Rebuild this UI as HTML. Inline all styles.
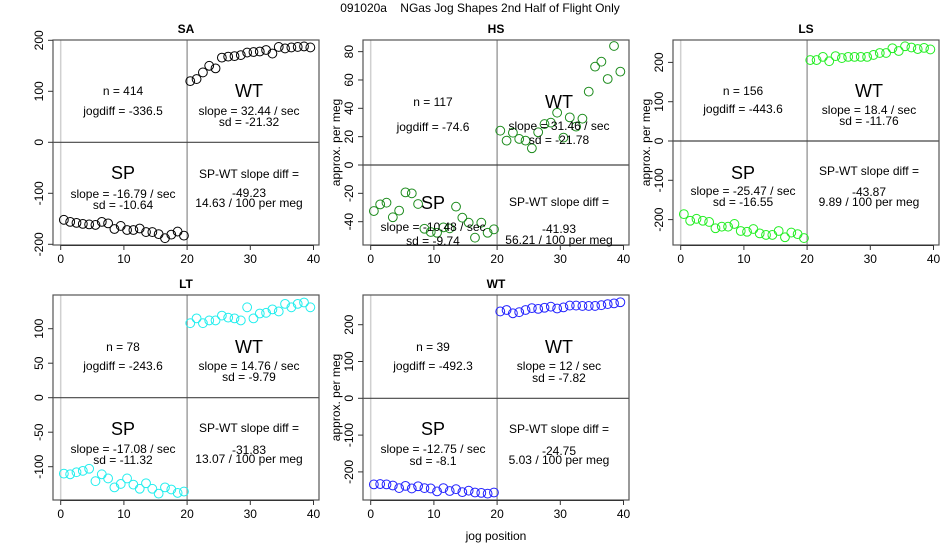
<!DOCTYPE html>
<html><head><meta charset="utf-8"><style>
body{margin:0;background:#fff}
svg{font-family:"Liberation Sans",sans-serif;display:block}
</style></head><body>
<svg id="chart" width="950" height="550"></svg>
<script>
const xTicks=[0,10,20,30,40];
const spX=[0.5,1.5,2.5,3.5,4.5,5.5,6.5,7.5,8.5,9.5,10.5,11.5,12.5,13.5,14.5,15.5,16.5,17.5,18.5,19.5];
const wtX=[20.5,21.5,22.5,23.5,24.5,25.5,26.5,27.5,28.5,29.5,30.5,31.5,32.5,33.5,34.5,35.5,36.5,37.5,38.5,39.5];
const saSP=[-152,-156,-158,-160,-161,-162,-156,-159,-170,-164,-172,-172,-169,-176,-176,-180,-188,-181,-175,-183];
const saWT=[120,124,137,150,145,166,168,169,171,176,177,178,181,174,187,184,186,187,188,186];
const hsSP=[-32.5,-27.8,-26.6,-36.9,-32.2,-19.3,-20,-27.5,-45,-47.3,-47.8,-44,-44.7,-29.4,-37.2,-40.7,-51.3,-40.7,-47.8,-45.4];
const hsWT=[24.2,17.2,22.8,18.4,17.2,11.8,23.1,28.9,29.9,36.9,19.3,33.6,27.1,32.7,51.8,69.4,72.9,60.7,84,65.9];
const lsSP=[-186,-203,-198,-203,-206,-222,-218,-218,-211,-229,-231,-224,-235,-239,-239,-229,-245,-233,-237,-247];
const lsWT=[206,206,214,203,216,211,214,214,214,214,219,224,224,236,229,241,238,234,237,233];
const ltSP=[-110,-111,-108,-106,-103,-121,-111,-117,-130,-125,-117,-126,-132,-124,-132,-139,-130,-133,-138,-136];
const ltWT=[108,115,108,112,112,119,116,115,112,131,115,122,123,128,125,136,131,136,138,131];
const wtSP=[-234,-233,-234,-237,-244,-238,-245,-239,-244,-245,-253,-244,-252,-247,-255,-251,-256,-257,-259,-256];
const wtWT=[236,240,231,234,240,245,243,246,249,244,247,252,252,251,251,251,253,256,258,261];
const saTicks=[-200,-100,0,100,200];
const hsTicks=[-40,-20,0,20,40,60,80];
const lsTicks=[-200,-100,0,100,200];
const ltTicks=[-100,-50,0,50,100];
const wtTicks=[-200,-100,0,100,200];
const saText=["n = 414","jogdiff = -336.5","slope = 32.44 / sec","sd = -21.32","slope = -16.79 / sec","sd = -10.64","-49.23","14.63 / 100 per meg"];
const hsText=["n = 117","jogdiff = -74.6","slope = 31.46 / sec","sd = -21.78","slope = -10.48 / sec","sd = -9.74","-41.93","56.21 / 100 per meg"];
const lsText=["n = 156","jogdiff = -443.6","slope = 18.4 / sec","sd = -11.76","slope = -25.47 / sec","sd = -16.55","-43.87","9.89 / 100 per meg"];
const ltText=["n = 78","jogdiff = -243.6","slope = 14.76 / sec","sd = -9.79","slope = -17.08 / sec","sd = -11.32","-31.83","13.07 / 100 per meg"];
const wtText=["n = 39","jogdiff = -492.3","slope = 12 / sec","sd = -7.82","slope = -12.75 / sec","sd = -8.1","-24.75","5.03 / 100 per meg"];

const panels=[
 {name:"SA",sp:saSP,wt:saWT,ticks:saTicks,text:saText,color:"#000",left:53,top:40,y0:142.3,k:0.51,ty:[91,111,91,111,122,173,194,205,174,193,203],ylab:false},
 {name:"HS",sp:hsSP,wt:hsWT,ticks:hsTicks,text:hsText,color:"#1e8c1e",left:363,top:40,y0:165,k:1.417,ty:[102,127,102,126,140,203,227,241,202,229,240],ylab:true},
 {name:"LS",sp:lsSP,wt:lsWT,ticks:lsTicks,text:lsText,color:"#22ee22",left:673,top:40,y0:141,k:0.393,ty:[91,109,91,110,121,173,191,202,171,192,202],ylab:true},
 {name:"LT",sp:ltSP,wt:ltWT,ticks:ltTicks,text:ltText,color:"#22eeee",left:53,top:295,y0:397.7,k:0.69,ty:[347,366,347,366,377,429,449,460,428,450,459],ylab:false},
 {name:"WT",sp:wtSP,wt:wtWT,ticks:wtTicks,text:wtText,color:"#2222ff",left:363,top:295,y0:398.3,k:0.368,ty:[347,366,347,366,378,429,449,461,429,451,460],ylab:true}
];
const NS="http://www.w3.org/2000/svg";
const svg=document.getElementById("chart");
function mk(tag,attrs,parent,txt){const e=document.createElementNS(NS,tag);for(const a in attrs)e.setAttribute(a,attrs[a]);if(txt!==undefined)e.textContent=txt;(parent||svg).appendChild(e);return e;}

const t=mk("text",{x:480,y:12,"text-anchor":"middle","font-size":12,style:"white-space:pre"},svg,"091020a    NGas Jog Shapes 2nd Half of Flight Only");


const xl=mk("text",{x:496,y:540,"text-anchor":"middle","font-size":12},svg,"jog position");



panels.forEach(p=>{
 const g=mk("g",{});
 
 
 const W=266,H=205;
 const xs=v=>p.left+7.7+v*6.32;
 const ys=v=>p.y0-v*p.k;
 const cx=p.left+W/2;
 const pt=mk("text",{x:cx,y:p.top-7,"text-anchor":"middle","font-size":12,"font-weight":"bold"},g,p.name);
 
 
 mk("line",{x1:xs(0),x2:xs(0),y1:p.top,y2:p.top+H,stroke:"#d0d0d0","stroke-width":1.5},g);
 mk("line",{x1:xs(20),x2:xs(20),y1:p.top,y2:p.top+H,stroke:"#8a8a8a","stroke-width":1.2},g);
 mk("line",{x1:p.left,x2:p.left+W,y1:ys(0),y2:ys(0),stroke:"#444","stroke-width":1.2},g);
 const box=mk("rect",{x:p.left,y:p.top,width:W,height:H,fill:"none",stroke:"#555","stroke-width":1.2},g);
 
 
 xTicks.forEach(v=>{
  mk("line",{x1:xs(v),x2:xs(v),y1:p.top+H,y2:p.top+H+5,stroke:"#333"},g);
  const l=mk("text",{x:xs(v),y:p.top+H+18,"text-anchor":"middle","font-size":12},g,String(v));
  
  
 });
 mk("line",{x1:xs(0),x2:xs(40),y1:p.top+H+0.5,y2:p.top+H+0.5,stroke:"#333"},g);
 p.ticks.forEach(v=>{
  const y=ys(v);
  mk("line",{x1:p.left-5,x2:p.left,y1:y,y2:y,stroke:"#333"},g);
  const tx=p.left-10;
  const l=mk("text",{x:tx,y:y,"text-anchor":"middle","font-size":12,transform:`rotate(-90 ${tx} ${y})`},g,String(v));
  
  
 });
 if(p.ylab){
  const yx=p.left-23,yy=p.top+H/2;
  const l=mk("text",{x:yx,y:yy,"text-anchor":"middle","font-size":12,transform:`rotate(-90 ${yx} ${yy})`},g,"approx. per meg");
  
  
 }
 spX.forEach((x,i)=>{
  const c=mk("circle",{cx:xs(x),cy:ys(p.sp[i]),r:4.4,fill:"none",stroke:p.color,"stroke-width":1},g);
  
  
 });
 wtX.forEach((x,i)=>{
  const c=mk("circle",{cx:xs(x),cy:ys(p.wt[i]),r:4.4,fill:"none",stroke:p.color,"stroke-width":1},g);
  
  
 });
 const lx=p.left+70,rx=p.left+196,ty=p.ty,tx=p.text;
 const items=[
  [lx,ty[0],tx[0],12,'n-label'],[lx,ty[1],tx[1],12,'jogdiff-label'],
  [rx,ty[2],"WT",18,'wt-label'],[rx,ty[3],tx[2],12,'wt-slope'],[rx,ty[4],tx[3],12,'wt-sd'],
  [lx,ty[5],"SP",18,'sp-label'],[lx,ty[6],tx[4],12,'sp-slope'],[lx,ty[7],tx[5],12,'sp-sd'],
  [rx,ty[8],"SP-WT slope diff =",12,'slope-diff-label'],[rx,ty[9],tx[6],12,'slope-diff-value'],[rx,ty[10],tx[7],12,'per-meg-value']
 ];
 items.forEach(it=>{
  const l=mk("text",{x:it[0],y:it[1],"text-anchor":"middle","dominant-baseline":"central","font-size":it[3]},g,it[2]);
  
  
 });
});
</script>
</body></html>
